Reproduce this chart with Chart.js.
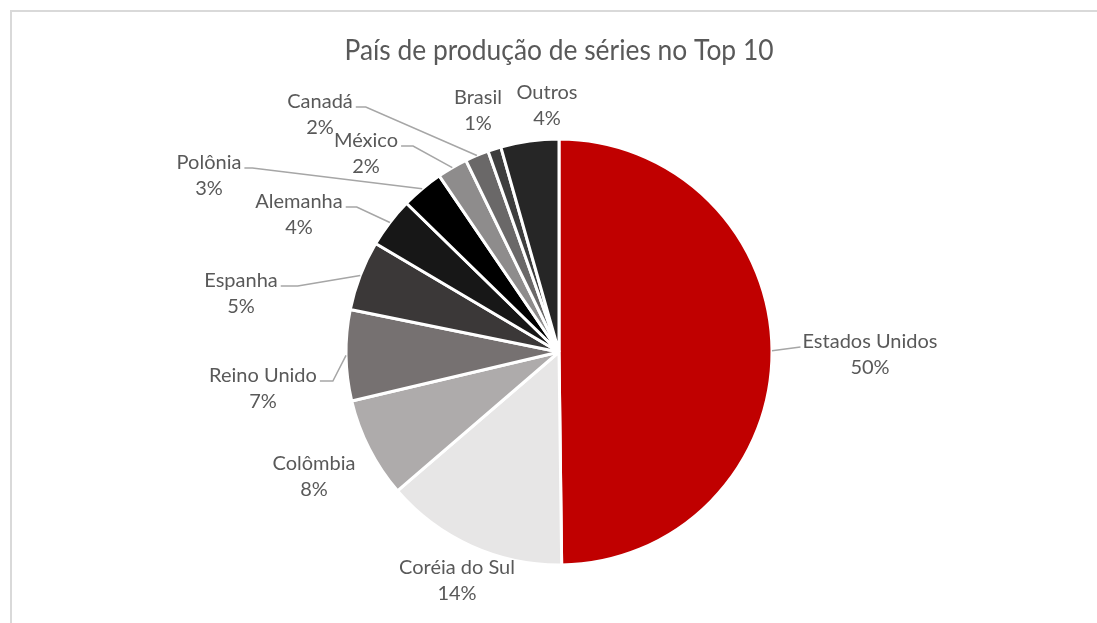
<!DOCTYPE html>
<html>
<head>
<meta charset="utf-8">
<script src="https://cdn.jsdelivr.net/npm/chart.js@4.4.1/dist/chart.umd.min.js"></script>
<style>
  html, body { margin: 0; padding: 0; background: #ffffff; }
  #wrap { position: relative; width: 1097px; height: 623px; overflow: hidden; }
  #frame { position: absolute; left: 10px; top: 10px; width: 1100px; height: 640px;
           border-top: 2px solid #d9d9d9; border-left: 2px solid #d9d9d9; box-sizing: border-box; }
  canvas { position: absolute; left: 0; top: 0; }
</style>
</head>
<body>
<div id="wrap">
  <div id="frame"></div>
  <canvas id="c" width="1097" height="623"></canvas>
</div>
<script>
// ---- data ----
const titleText = "País de produção de séries no Top 10";
const countries = ["Estados Unidos", "Coréia do Sul", "Colômbia", "Reino Unido", "Espanha",
                   "Alemanha", "Polônia", "México", "Canadá", "Brasil", "Outros"];
const shares = [49.8, 13.9, 7.6, 6.9, 5.3, 3.8, 3.2, 2.3, 1.8, 1.0, 4.4];
const sliceColors = ["#C00000", "#E7E6E6", "#AEABAB", "#767171", "#3B3838",
                     "#171717", "#000000", "#8E8C8C", "#6A6868", "#3E3E3E", "#262626"];

// ---- label layout (centre of first text line, leader side, elbow length) ----
const labelLayout = [
  { x: 870, y: 342, side: "left",  elbow: 0 },
  { x: 457, y: 568, side: null },
  { x: 314, y: 464, side: null },
  { x: 263, y: 376, side: "right", elbow: 13 },
  { x: 241, y: 281, side: "right", elbow: 17 },
  { x: 299, y: 202, side: "right", elbow: 11 },
  { x: 209, y: 163, side: "right", elbow: 8 },
  { x: 366, y: 141, side: "right", elbow: 12 },
  { x: 320, y: 102, side: "right", elbow: 10 },
  { x: 478, y: 98,  side: null },
  { x: 547, y: 93,  side: null }
];
const labelFont = "20px Lato";
const labelColor = "#595959";
const leaderColor = "#A6A6A6";
const lineGap = 25.5;

const total = shares.reduce((a, b) => a + b, 0);

const labelPlugin = {
  id: "pieLabels",
  afterDatasetsDraw(chart) {
    const ctx = chart.ctx;
    const meta = chart.getDatasetMeta(0);
    ctx.save();
    ctx.font = labelFont;
    ctx.textAlign = "center";
    ctx.textBaseline = "middle";
    meta.data.forEach((arc, i) => {
      const L = labelLayout[i];
      const name = chart.data.labels[i];
      const pct = Math.round(chart.data.datasets[0].data[i] / total * 100) + "%";
      const w = ctx.measureText(name).width;
      if (L.side) {
        const p = arc.getProps(["x", "y", "startAngle", "endAngle", "outerRadius"], true);
        const mid = (p.startAngle + p.endAngle) / 2;
        const ax = p.x + Math.cos(mid) * p.outerRadius;
        const ay = p.y + Math.sin(mid) * p.outerRadius;
        const ly = L.y + 5;
        let sx, ex;
        if (L.side === "right") { sx = L.x + w / 2 + 3; ex = sx + L.elbow; }
        else { sx = L.x - w / 2 - 2; ex = sx - L.elbow; }
        ctx.beginPath();
        ctx.strokeStyle = leaderColor;
        ctx.lineWidth = 1.5;
        ctx.moveTo(sx, ly);
        ctx.lineTo(ex, ly);
        ctx.lineTo(ax, ay);
        ctx.stroke();
      }
      ctx.fillStyle = labelColor;
      ctx.fillText(name, L.x, L.y);
      ctx.fillText(pct, L.x, L.y + lineGap);
    });
    ctx.restore();
  }
};

new Chart(document.getElementById("c"), {
  type: "pie",
  data: {
    labels: countries,
    datasets: [{
      data: shares,
      backgroundColor: sliceColors,
      borderColor: "#ffffff",
      borderWidth: 3
    }]
  },
  options: {
    responsive: false,
    devicePixelRatio: 1,
    animation: false,
    layout: { padding: { top: 0, left: 344.5, right: 323.5, bottom: 56.5 } },
    plugins: {
      legend: { display: false },
      tooltip: { enabled: false },
      title: {
        display: true,
        text: titleText,
        color: "#595959",
        font: { family: "Lato", size: 28, weight: "normal", lineHeight: 1.2 },
        padding: { top: 34.2, bottom: 69.7 }
      }
    }
  },
  plugins: [labelPlugin]
});
</script>
</body>
</html>
